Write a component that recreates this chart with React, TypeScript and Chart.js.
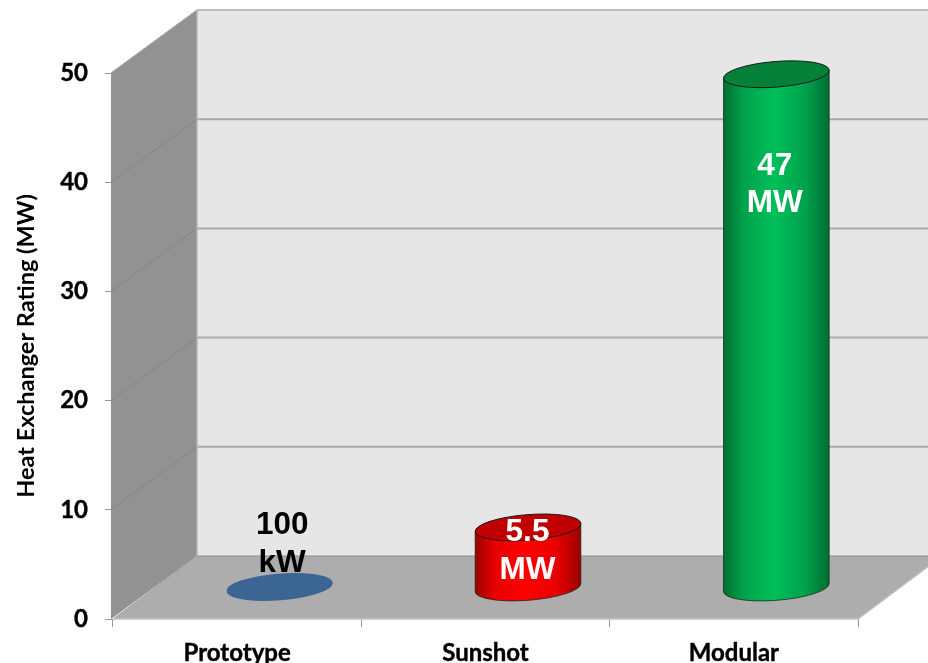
import { useEffect, useRef } from "react";
import { Chart, registerables } from "chart.js";

Chart.register(...registerables);

const categories = ["Prototype", "Sunshot", "Modular"];
const ratings = [0.1, 5.5, 47];
const barLabels = [
  ["100", "kW"],
  ["5.5", "MW"],
  ["47", "MW"],
];
const yTicks = [0, 10, 20, 30, 40, 50];
const yTitle = "Heat Exchanger Rating (MW)";

const barColors = ["#3b6593", "#ff0000", "#00bf5a"];
const edgeColors = ["#3b6593", "#990000", "#006e30"];
const midColors = ["#3b6593", "#e80000", "#00a04a"];
const capColors = ["#3b6593", "#c00000", "#048038"];
const labelColors = ["#000000", "#ffffff", "#ffffff"];
const labelShift = [
  [3, -61],
  [0, 5],
  [-1, 92],
];

const DEPTH_X = 84;
const DEPTH_Y = -63;
const RX = 53;
const RY = 12.8;
const TILT = (-4.5 * Math.PI) / 180;

const TICK_FONT = "Lato, Carlito, sans-serif";
const LABEL_FONT = '"Liberation Sans", Arial, sans-serif';

const walls = {
  id: "walls",
  beforeDatasetsDraw(chart: any) {
    const { ctx, chartArea, scales } = chart;
    const { left, right, top, bottom } = chartArea;
    const w = chart.width;
    const poly = (pts: number[][], fill: string) => {
      ctx.beginPath();
      pts.forEach(([x, y], i) => (i ? ctx.lineTo(x, y) : ctx.moveTo(x, y)));
      ctx.closePath();
      ctx.fillStyle = fill;
      ctx.fill();
    };
    const bx = left + DEPTH_X;
    const byTop = top + DEPTH_Y;
    const byBot = bottom + DEPTH_Y;
    ctx.save();
    poly([[bx, byTop], [w, byTop], [w, byBot], [bx, byBot]], "#e6e6e6");
    poly([[left - 2, top], [bx, byTop], [bx, byBot], [left - 2, bottom]], "#929292");
    const rightRise = (w - right) * (DEPTH_Y / DEPTH_X);
    poly([[left, bottom], [bx, byBot], [w, byBot], [w, bottom + rightRise], [right, bottom]], "#adadad");

    const line = (x1: number, y1: number, x2: number, y2: number, c: string, lw: number) => {
      ctx.beginPath();
      ctx.moveTo(x1, y1);
      ctx.lineTo(x2, y2);
      ctx.strokeStyle = c;
      ctx.lineWidth = lw;
      ctx.stroke();
    };
    yTicks.forEach((t) => {
      const y = scales.y.getPixelForValue(t);
      if (t > 0) {
        line(bx, y + DEPTH_Y, w, y + DEPTH_Y, t === 50 ? "#bdbdbd" : "#a9a9a9", 2);
        line(left - 2, y, bx, y + DEPTH_Y, "#858585", 1);
      }
    });
    line(bx, byBot, w, byBot, "#8f8f8f", 1);
    line(bx, byBot, left, bottom, "#a0a0a0", 1);
    line(bx, byTop, bx, byBot, "#b4b4b4", 1.5);
    line(left, bottom, right, bottom, "#c4c4c4", 1.5);
    line(right, bottom, w, bottom + rightRise, "#c0c0c0", 1.5);
    line(left - 2, top, bx, byTop, "#b0b0b0", 1);
    ctx.restore();
  },
};

const cylinders = {
  id: "cylinders",
  beforeDatasetDraw(chart: any) {
    const { ctx, scales } = chart;
    const meta = chart.getDatasetMeta(0);
    meta.data.forEach((bar: any, i: number) => {
      const cx = bar.x + DEPTH_X / 2 + 0.5;
      const base = scales.y.getPixelForValue(0) + DEPTH_Y / 2;
      const topY = bar.y + DEPTH_Y / 2;
      const dx = RX * Math.cos(TILT);
      const dy = RX * Math.sin(TILT);
      ctx.save();
      const g = ctx.createLinearGradient(cx - dx, 0, cx + dx, 0);
      g.addColorStop(0, edgeColors[i]);
      g.addColorStop(0.18, midColors[i]);
      g.addColorStop(0.48, barColors[i]);
      g.addColorStop(0.78, midColors[i]);
      g.addColorStop(1, edgeColors[i]);
      ctx.beginPath();
      ctx.moveTo(cx - dx, topY - dy);
      ctx.lineTo(cx - dx, base - dy);
      ctx.ellipse(cx, base, RX, RY, TILT, Math.PI, 0, true);
      ctx.lineTo(cx + dx, topY + dy);
      ctx.closePath();
      ctx.fillStyle = g;
      ctx.fill();
      if (i > 0) {
        ctx.strokeStyle = "rgba(20,40,30,0.75)";
        ctx.lineWidth = 1;
        ctx.stroke();
      }
      ctx.beginPath();
      ctx.ellipse(cx, topY, RX, RY, TILT, 0, Math.PI * 2);
      ctx.fillStyle = capColors[i];
      ctx.fill();
      if (i > 0) {
        ctx.strokeStyle = "#1a1a1a";
        ctx.lineWidth = 1;
        ctx.stroke();
      }
      ctx.restore();
    });
    meta.data.forEach((bar: any, i: number) => {
      const cx = bar.x + DEPTH_X / 2 + labelShift[i][0];
      const y0 = bar.y + DEPTH_Y / 2 + labelShift[i][1];
      ctx.save();
      ctx.font = `bold 31.5px ${LABEL_FONT}`;
      ctx.textAlign = "center";
      ctx.textBaseline = "middle";
      ctx.fillStyle = labelColors[i];
      barLabels[i].forEach((t, k) => ctx.fillText(t, cx, y0 + k * 37.5));
      ctx.restore();
    });
    return false;
  },
};

export default function App() {
  const ref = useRef<HTMLCanvasElement>(null);
  useEffect(() => {
    const chart = new Chart(ref.current!, {
      type: "bar",
      data: {
        labels: categories,
        datasets: [{ data: ratings, backgroundColor: barColors }],
      },
      plugins: [walls, cylinders],
      options: {
        animation: false,
        responsive: false,
        layout: { padding: { top: 73, right: 70, left: 0, bottom: 0 } },
        plugins: { legend: { display: false }, tooltip: { enabled: false } },
        scales: {
          x: {
            grid: { drawOnChartArea: false, drawTicks: true, tickLength: 8, color: "#9a9a9a" },
            border: { display: false },
            ticks: {
              color: "#000",
              padding: 12,
              maxRotation: 0,
              textStrokeColor: "#000",
              textStrokeWidth: 0.4,
              font: { family: TICK_FONT, size: 24, weight: "bold" },
            },
            afterFit: (s: any) => {
              s.height = 44;
              s.paddingLeft = 0;
              s.paddingRight = 0;
            },
          },
          y: {
            min: 0,
            max: 50,
            grid: { drawOnChartArea: false, drawTicks: true, tickLength: 8, color: "#9a9a9a" },
            border: { display: false },
            afterBuildTicks: (s: any) => {
              s.ticks = yTicks.map((value) => ({ value }));
            },
            ticks: {
              color: "#000",
              padding: 17,
              textStrokeColor: "#000",
              textStrokeWidth: 0.4,
              font: { family: TICK_FONT, size: 24, weight: "bold" },
            },
            title: {
              display: true,
              text: yTitle,
              color: "#000",
              padding: { top: 12, bottom: 0 },
              font: { family: TICK_FONT, size: 23.5, weight: "bold" },
            },
            afterFit: (s: any) => {
              s.width = 113;
              s.paddingTop = 0;
              s.paddingBottom = 0;
            },
          },
        },
      },
    } as any);
    return () => chart.destroy();
  }, []);
  return (
    <canvas
      ref={ref}
      width={928}
      height={663}
      style={{ position: "fixed", left: 0, top: 0, width: 928, height: 663 }}
    />
  );
}
